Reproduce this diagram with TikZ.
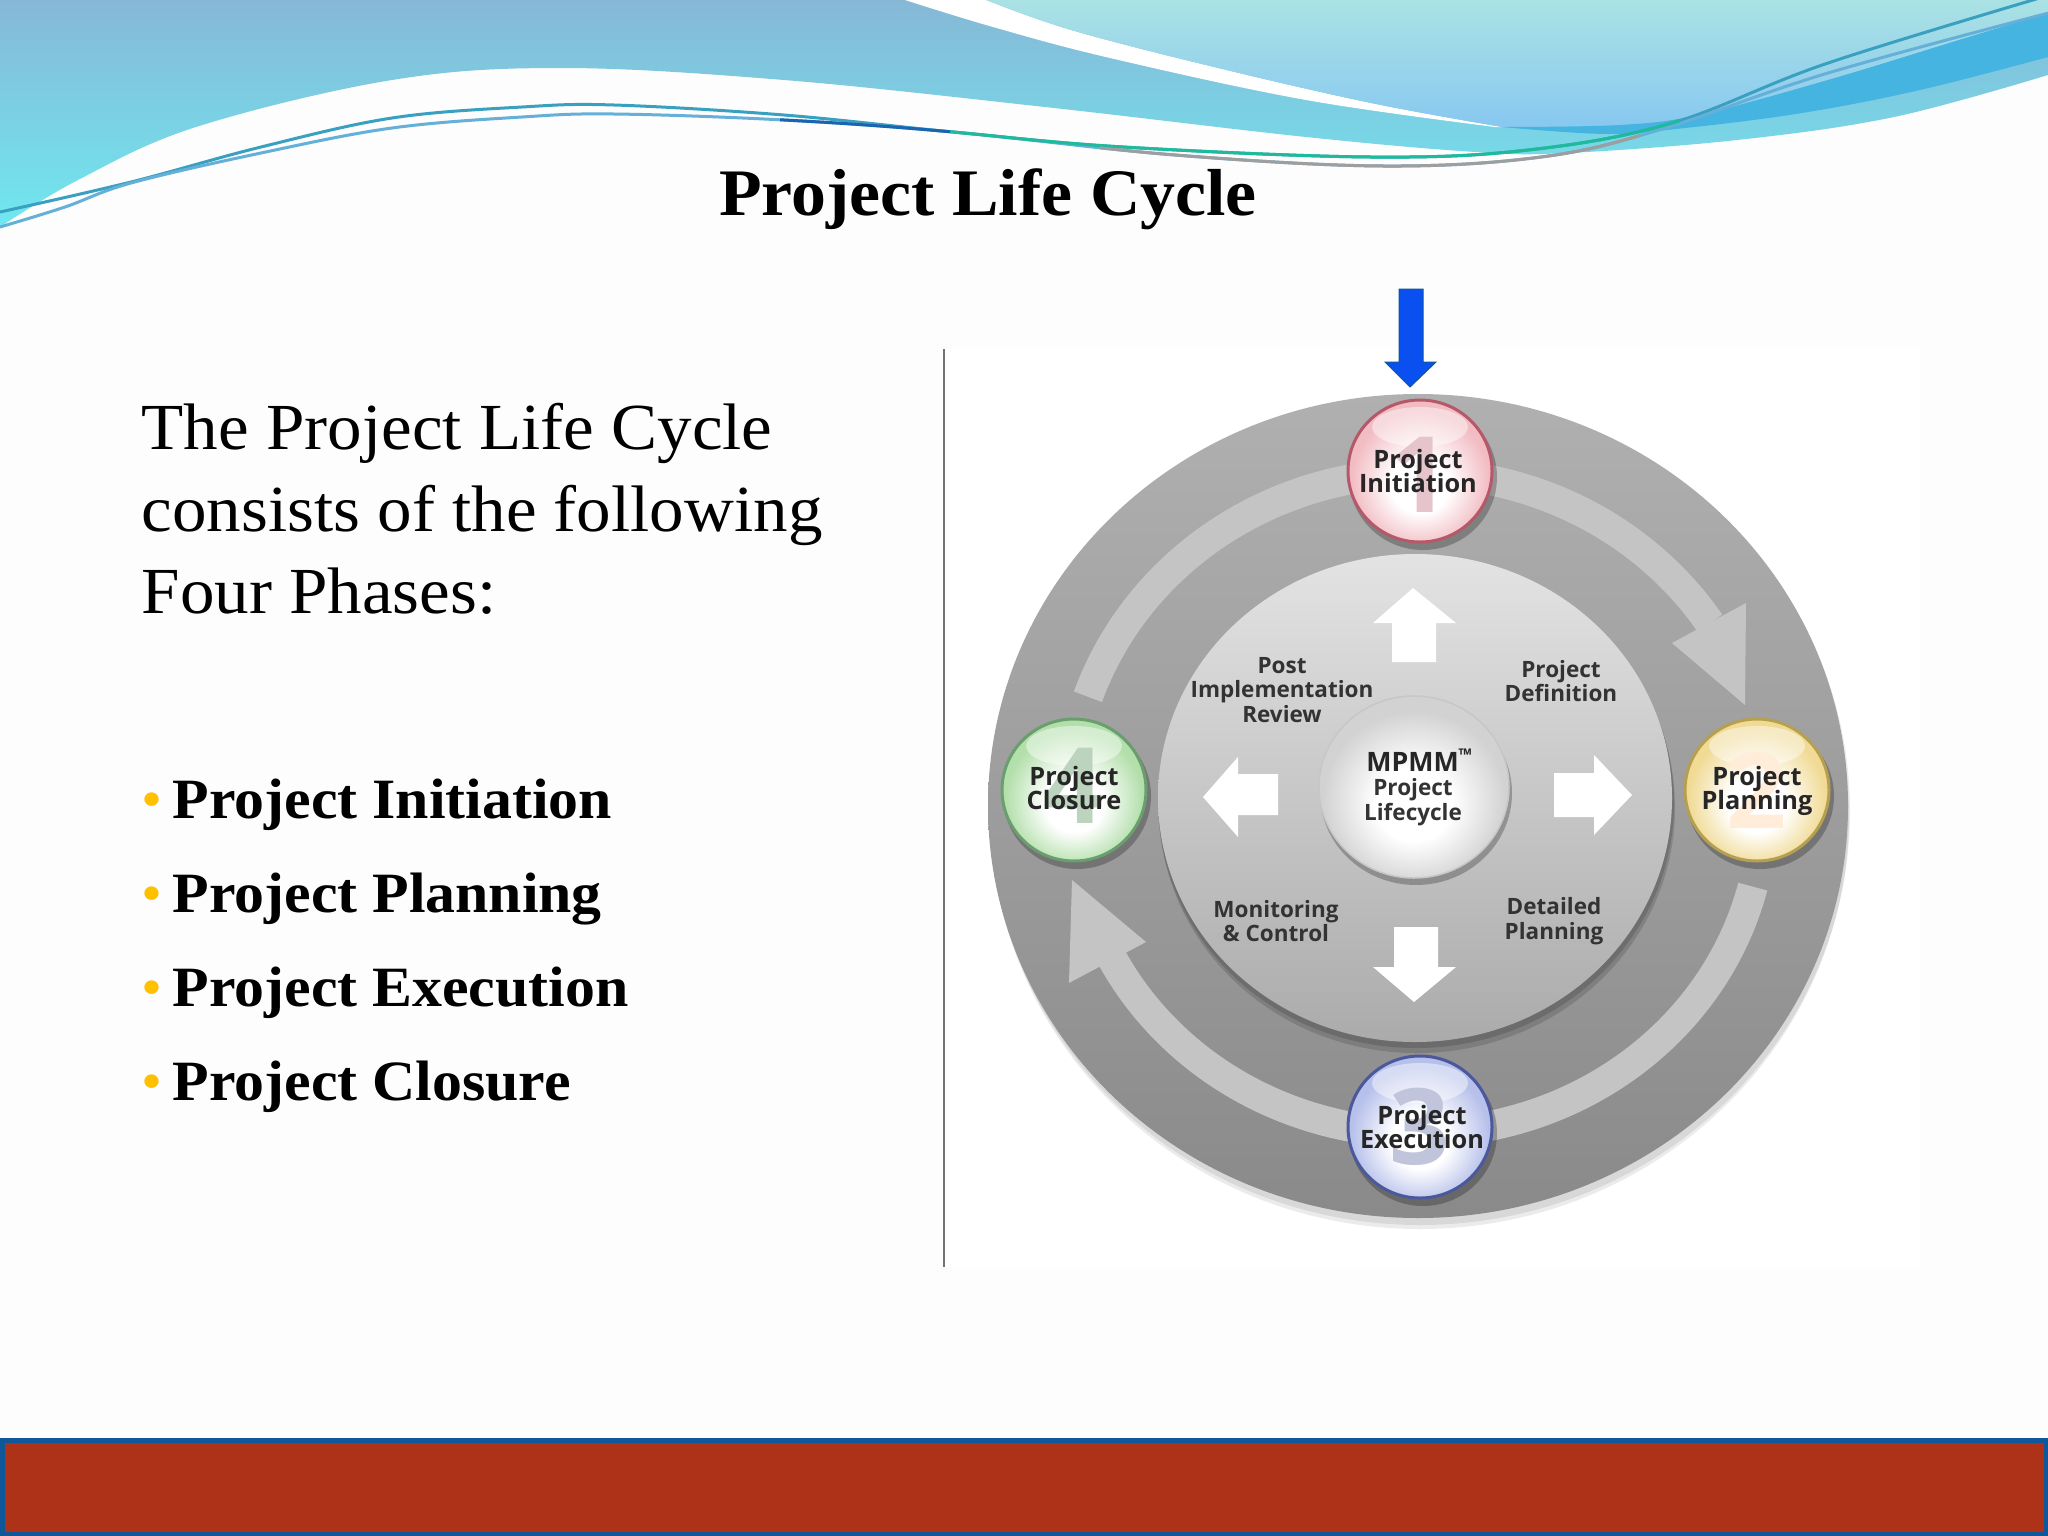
\documentclass[tikz,border=0pt]{standalone}
\usepackage{fontspec}
\setmainfont[FakeStretch=1.05]{Liberation Serif}
\setsansfont{Open Sans}
\definecolor{slidebg}{HTML}{FDFDFD}
\definecolor{gold}{HTML}{FFC000}
\definecolor{footred}{HTML}{AE3218}
\definecolor{footblue}{HTML}{0F5799}
\definecolor{skytop}{HTML}{86B8D6}
\definecolor{skybottom}{HTML}{70E8F0}
\definecolor{paletop}{HTML}{AAE2E4}
\definecolor{palebottom}{HTML}{88C8F0}
\definecolor{bandblue}{HTML}{45B4E0}
\definecolor{waveteal}{HTML}{3AA0C0}
\definecolor{wavesky}{HTML}{64B0D8}
\definecolor{wavegreen}{HTML}{1DBB9B}
\definecolor{waveblue}{HTML}{1A64B0}
\definecolor{startblue}{HTML}{0A50F0}
\definecolor{cuered}{HTML}{F2BCC3}
\definecolor{cuerim}{HTML}{B5586A}
\definecolor{cueyellow}{HTML}{F0DA94}
\definecolor{yellowrim}{HTML}{B59F50}
\definecolor{cuegreen}{HTML}{B2DFAA}
\definecolor{greenrim}{HTML}{6A9E6E}
\definecolor{cueblue}{HTML}{B6C0EA}
\definecolor{bluerim}{HTML}{4C589C}
\definecolor{cuegrey}{HTML}{D2D2D2}
\newcommand{\declareball}[2]{\pgfdeclareradialshading{#1}{\pgfpoint{0bp}{-6bp}}{color(0bp)=(white); color(10bp)=(white); color(24bp)=(#2); color(50bp)=(#2)}}
\declareball{ballred}{cuered}
\declareball{ballyellow}{cueyellow}
\declareball{ballgreen}{cuegreen}
\declareball{ballblue}{cueblue}
\declareball{ballgrey}{cuegrey}
\newcommand{\phaseball}[4]{
\fill[black, opacity=.25] (#1+3,#2+6) ellipse (74 and 73);
\shadedraw[shading=#3, draw=#4, line width=.03cm] (#1,#2) ellipse (72 and 71);
\fill[white, opacity=.45] (#1,#2-44) ellipse (48 and 20);
}
\newcommand{\waveA}{plot[smooth, tension=.6] coordinates {(0,212) (131,182) (261,147) (392,118) (522,107) (614,105) (784,115) (953,132) (1123,147) (1371,157) (1528,150) (1672,123) (1828,63) (2060,-8)}}
\newcommand{\waveB}{plot[smooth, tension=.6] coordinates {(0,227) (65,207) (131,183) (261,153) (392,128) (522,117) (614,114) (784,120) (953,132) (1175,155) (1384,166) (1541,157) (1659,130) (1828,73) (2060,10)}}
\tikzset{
  ringarrow/.style={draw=black!23, line width=.3cm},
  ringhead/.style={fill=black!23},
  bigarrow/.style={fill=white},
  wave/.style={line width=.03cm},
  ballnum/.style={font=\sffamily\bfseries\fontsize{30}{30}\selectfont, inner sep=0pt},
  balltext/.style={font=\sffamily\bfseries\fontsize{7.2}{7.2}\selectfont, text=black!85, align=center, inner sep=0pt},
  steptext/.style={font=\sffamily\bfseries\fontsize{6.4}{7}\selectfont, text=black!80, align=center, inner sep=0pt},
  phasetext/.style={font=\bfseries\fontsize{16.2}{16.2}\selectfont, anchor=base west, inner sep=0pt},
  bulletdot/.style={font=\fontsize{16.2}{16.2}\selectfont, text=gold, anchor=base west, inner sep=0pt}
}
\begin{document}
\begin{tikzpicture}[x=0.01cm, y=-0.01cm]
\useasboundingbox (0,0) rectangle (2048,1536);
\fill[slidebg] (0,0) rectangle (2048,1536);
\fill[white] (944,349) rectangle (1920,1267);

\shade[top color=skytop, bottom color=skybottom] (0,0) -- (2048,0) -- plot[smooth, tension=.6] coordinates {(2048,75) (1894,117) (1737,140) (1567,153) (1476,152) (1306,137) (1045,107) (784,80) (562,68) (392,80) (196,127) (78,180) (0,227)} -- cycle;
\fill[white] plot[smooth, tension=.6] coordinates {(905,0) (993,27) (1110,58) (1306,100) (1495,127)} -- plot[smooth, tension=.6] coordinates {(1502,127) (1371,103) (1214,67) (1071,30) (986,0)} -- cycle;
\shade[top color=paletop, bottom color=palebottom] plot[smooth, tension=.6] coordinates {(986,0) (1071,30) (1214,67) (1371,103) (1502,127)} -- plot[smooth, tension=.6] coordinates {(1502,127) (1619,125) (1698,115) (1828,80) (1959,40) (2048,13)} -- (2048,0) -- cycle;
\fill[bandblue] plot[smooth, tension=.6] coordinates {(1502,127) (1619,125) (1698,115) (1828,80) (1959,40) (2048,13)} -- plot[smooth, tension=.6] coordinates {(2048,57) (1920,90) (1802,113) (1685,128) (1606,134) (1502,127)} -- cycle;

\draw[wave, waveteal] \waveA;
\draw[wave, wavesky] \waveB;
\begin{scope}
\clip (950,100) rectangle (1680,200);
\draw[wave, wavegreen] \waveA;
\end{scope}
\begin{scope}
\clip (1100,100) rectangle (1640,200);
\draw[wave, black!38] \waveB;
\end{scope}
\begin{scope}
\clip (780,100) rectangle (950,200);
\draw[wave, waveblue] \waveB;
\end{scope}

\node[font=\bfseries\fontsize{18.9}{18.9}\selectfont, anchor=base, inner sep=0pt] (title) at (988,215) {Project Life Cycle};
\node[font=\fontsize{18.7}{23.33}\selectfont, align=left, anchor=north west, inner sep=0pt] (intro) at (141,402) {The Project Life Cycle\\consists of the following\\Four Phases:};

\node[bulletdot] (dotone) at (141,818) {•};
\node[phasetext] (phaseone) at (172,818) {Project Initiation};
\node[bulletdot] (dottwo) at (141,912) {•};
\node[phasetext] (phasetwo) at (172,912) {Project Planning};
\node[bulletdot] (dotthree) at (141,1006) {•};
\node[phasetext] (phasethree) at (172,1006) {Project Execution};
\node[bulletdot] (dotfour) at (141,1100) {•};
\node[phasetext] (phasefour) at (172,1100) {Project Closure};

\draw[black!55, line width=.025cm] (944,349) -- (944,1267);
\filldraw[fill=startblue, draw=footblue, line width=.01cm] (1399,289) -- (1423,289) -- (1423,362) -- (1436,362) -- (1410,387) -- (1385,362) -- (1399,362) -- cycle;

\fill[black, opacity=.08] (1420,811) ellipse (430 and 414);
\fill[black, opacity=.08] (1420,815) ellipse (429 and 414);
\shade[top color=black!31, bottom color=black!46] (1418,806) ellipse (430 and 412);

\draw[ringarrow] (1418,808) ++(-160.6:350 and 335) arc[start angle=-160.6, end angle=-33.5, x radius=350, y radius=335];
\fill[ringhead] (1672,643) -- (1746,603) -- (1745,705) -- cycle;
\draw[ringarrow] (1418,808) ++(14:345 and 325) arc[start angle=14, end angle=80, x radius=345, y radius=325];
\draw[ringarrow] (1418,808) ++(100:345 and 325) arc[start angle=100, end angle=153, x radius=345, y radius=325];
\fill[ringhead] (1069,983) -- (1072,880) -- (1146,942) -- cycle;

\fill[black, opacity=.14] (1416,803) ellipse (258 and 245);
\fill[black, opacity=.14] (1417,808) ellipse (258 and 245);
\shade[top color=black!11, bottom color=black!33] (1415,798) ellipse (257 and 244);

\fill[bigarrow] (1413,588) -- (1456,623) -- (1436,623) -- (1436,662) -- (1392,662) -- (1392,623) -- (1373,623) -- cycle;
\fill[bigarrow] (1414,1002) -- (1456,967) -- (1438,967) -- (1438,927) -- (1394,927) -- (1394,967) -- (1373,967) -- cycle;
\fill[bigarrow] (1203,797) -- (1238,757) -- (1238,774) -- (1278,774) -- (1278,815) -- (1238,815) -- (1238,837) -- cycle;
\fill[bigarrow] (1632,795) -- (1594,755) -- (1594,773) -- (1554,773) -- (1554,817) -- (1594,817) -- (1594,835) -- cycle;

\fill[black, opacity=.25] (1416,793) ellipse (96 and 92);
\shadedraw[shading=ballgrey, draw=black!22, line width=.015cm] (1414,787) ellipse (95 and 91);

\phaseball{1420}{471}{ballred}{cuerim}
\node[ballnum, text=cuerim!35] (numone) at (1420,475) {1};
\phaseball{1757}{790}{ballyellow}{yellowrim}
\node[ballnum, text=orange!15] (numtwo) at (1757,790) {2};
\phaseball{1420}{1127}{ballblue}{bluerim}
\node[ballnum, text=bluerim!35] (numthree) at (1420,1127) {3};
\phaseball{1074}{790}{ballgreen}{greenrim}
\node[ballnum, text=greenrim!45] (numfour) at (1074,786) {4};

\node[balltext] (initiation) at (1418,471) {Project\\[-.2pt]Initiation};
\node[balltext] (planning) at (1757,791) {Project\\[-.2pt]Planning};
\node[balltext] (execution) at (1422,1127) {Project\\[-.2pt]Execution};
\node[balltext] (closure) at (1074,788) {Project\\[-.2pt]Closure};

\node[steptext] (review) at (1282,690) {Post\\Implementation\\Review};
\node[steptext] (definition) at (1561,681) {Project\\Definition};
\node[steptext] (monitoring) at (1276,921) {Monitoring\\\&~Control};
\node[steptext] (detailed) at (1554,921) {Detailed\\Planning};
\node[steptext, font=\sffamily\bfseries\fontsize{7.6}{7.6}\selectfont, text=black!85] (mpmm) at (1420,760) {MPMM\textsuperscript{\tiny™}};
\node[steptext] (lifecycle) at (1413,802) {Project\\Lifecycle};

\filldraw[fill=footred, draw=footblue, line width=.05cm] (2,1440) rectangle (2046,1534);
\end{tikzpicture}
\end{document}
